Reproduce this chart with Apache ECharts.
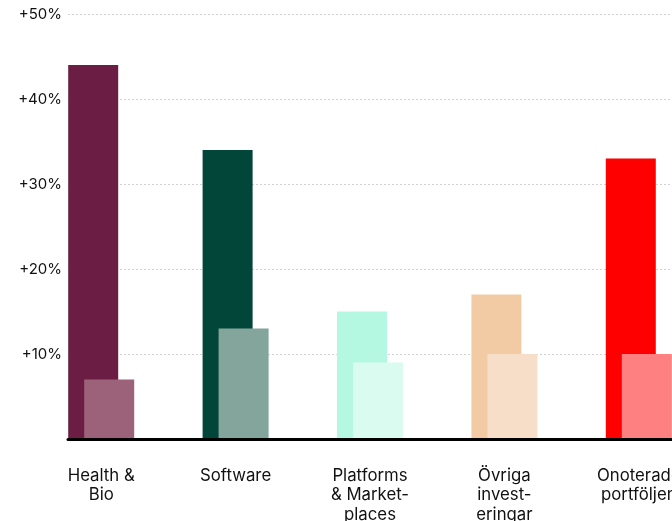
<!DOCTYPE html>
<html>
<head>
<meta charset="utf-8">
<script src="https://cdn.jsdelivr.net/npm/echarts@6/dist/echarts.min.js"></script>
<style>
  html, body { margin: 0; padding: 0; background: #ffffff; }
  #chart { width: 672px; height: 521px; }
</style>
</head>
<body>
<div id="chart"></div>
<script>
// Segment names (line breaks as printed under each pair of bars)
const categories = [
  'Health &\nBio',
  'Software',
  'Platforms\n& Market-\nplaces',
  'Övriga\ninvest-\neringar',
  'Onoterade\nportföljen'
];

// Change in percent per segment: primary (tall, saturated) and secondary (lighter) bars
const primaryValues = [44, 34, 15, 17, 33];
const secondaryValues = [7, 13, 9, 10, 10];

// Value axis ticks
const yTicks = [0, 10, 20, 30, 40, 50];

// Segment colours
const primaryColors = ['#6c1d43', '#02463a', '#b4f8e1', '#f2cba5', '#ff0000'];
const secondaryColors = ['#9b6279', '#83a59c', '#dafbef', '#f6dec8', '#ff8080'];

const FONT = 'Inter, "DejaVu Sans", sans-serif';
const yMin = yTicks[0];
const yMax = yTicks[yTicks.length - 1];
const yStep = yTicks[1] - yTicks[0];

const chart = echarts.init(document.getElementById('chart'), null, { renderer: 'canvas' });

chart.setOption({
  animation: false,
  backgroundColor: '#ffffff',
  grid: [
    // frame: value axis labels, dotted grid, baseline
    { left: 68, right: 0, top: 14, bottom: 82, outerBoundsMode: 'none' },
    // bars and category labels; the last category runs past the right edge
    { left: 34, width: 672, top: 14, bottom: 82, outerBoundsMode: 'none' }
  ],
  xAxis: [
    {
      type: 'category',
      gridIndex: 0,
      data: categories,
      axisLine: { show: true, lineStyle: { color: '#000000', width: 3 } },
      axisTick: { show: false },
      axisLabel: { show: false },
      z: 5
    },
    {
      type: 'category',
      gridIndex: 1,
      data: categories,
      axisLine: { show: false },
      axisTick: { show: false },
      axisLabel: {
        interval: 0,
        margin: 27,
        fontFamily: FONT,
        fontSize: 16.8,
        lineHeight: 19.5,
        color: '#111111',
        align: 'center'
      }
    }
  ],
  yAxis: [
    {
      type: 'value',
      gridIndex: 0,
      min: yMin,
      max: yMax,
      interval: yStep,
      axisLine: { show: false },
      axisTick: { show: false },
      axisLabel: {
        margin: 6,
        fontFamily: FONT,
        fontSize: 15,
        color: '#111111',
        showMinLabel: false,
        formatter: v => (v === 0 ? '' : '+' + v + '%')
      },
      splitLine: {
        show: true,
        lineStyle: { color: '#d2d2d2', width: 1, type: [2, 2] }
      }
    },
    {
      type: 'value',
      gridIndex: 1,
      min: yMin,
      max: yMax,
      interval: yStep,
      show: false,
      splitLine: { show: false }
    }
  ],
  series: [
    {
      type: 'bar',
      xAxisIndex: 1,
      yAxisIndex: 1,
      barWidth: 50,
      barGap: '-68%',
      data: primaryValues.map((v, i) => ({ value: v, itemStyle: { color: primaryColors[i] } })),
      z: 2
    },
    {
      type: 'bar',
      xAxisIndex: 1,
      yAxisIndex: 1,
      barWidth: 50,
      data: secondaryValues.map((v, i) => ({ value: v, itemStyle: { color: secondaryColors[i] } })),
      z: 3
    }
  ]
});
</script>
</body>
</html>
